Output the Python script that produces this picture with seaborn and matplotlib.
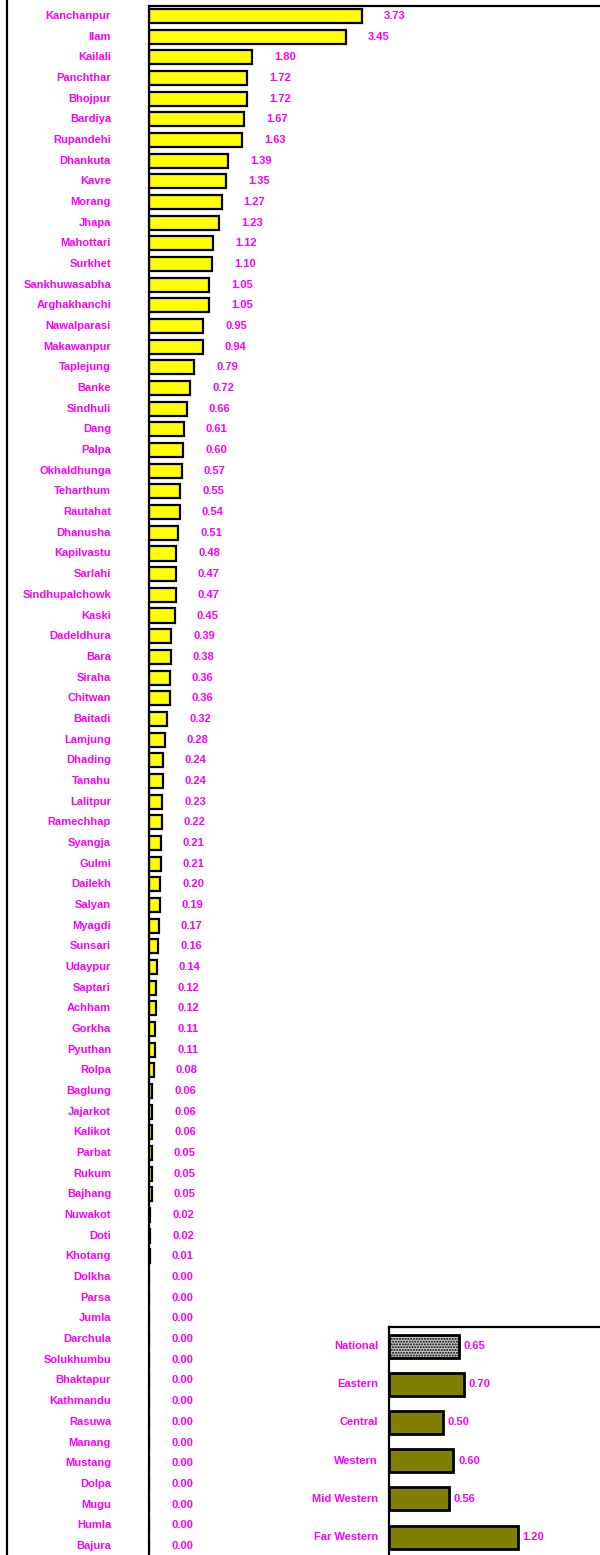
import matplotlib
matplotlib.use("Agg")
import matplotlib.pyplot as plt
from matplotlib.lines import Line2D
import seaborn as sns
import pandas as pd

# District values, top to bottom
districts = [
    "Kanchanpur", "Ilam", "Kailali", "Panchthar", "Bhojpur", "Bardiya", "Rupandehi",
    "Dhankuta", "Kavre", "Morang", "Jhapa", "Mahottari", "Surkhet", "Sankhuwasabha",
    "Arghakhanchi", "Nawalparasi", "Makawanpur", "Taplejung", "Banke", "Sindhuli",
    "Dang", "Palpa", "Okhaldhunga", "Teharthum", "Rautahat", "Dhanusha", "Kapilvastu",
    "Sarlahi", "Sindhupalchowk", "Kaski", "Dadeldhura", "Bara", "Siraha", "Chitwan",
    "Baitadi", "Lamjung", "Dhading", "Tanahu", "Lalitpur", "Ramechhap", "Syangja",
    "Gulmi", "Dailekh", "Salyan", "Myagdi", "Sunsari", "Udaypur", "Saptari", "Achham",
    "Gorkha", "Pyuthan", "Rolpa", "Baglung", "Jajarkot", "Kalikot", "Parbat", "Rukum",
    "Bajhang", "Nuwakot", "Doti", "Khotang", "Dolkha", "Parsa", "Jumla", "Darchula",
    "Solukhumbu", "Bhaktapur", "Kathmandu", "Rasuwa", "Manang", "Mustang", "Dolpa",
    "Mugu", "Humla", "Bajura",
]
district_values = [
    3.73, 3.45, 1.80, 1.72, 1.72, 1.67, 1.63,
    1.39, 1.35, 1.27, 1.23, 1.12, 1.10, 1.05,
    1.05, 0.95, 0.94, 0.79, 0.72, 0.66,
    0.61, 0.60, 0.57, 0.55, 0.54, 0.51, 0.48,
    0.47, 0.47, 0.45, 0.39, 0.38, 0.36, 0.36,
    0.32, 0.28, 0.24, 0.24, 0.23, 0.22, 0.21,
    0.21, 0.20, 0.19, 0.17, 0.16, 0.14, 0.12, 0.12,
    0.11, 0.11, 0.08, 0.06, 0.06, 0.06, 0.05, 0.05,
    0.05, 0.02, 0.02, 0.01, 0.00, 0.00, 0.00, 0.00,
    0.00, 0.00, 0.00, 0.00, 0.00, 0.00, 0.00,
    0.00, 0.00, 0.00,
]

# Regional values
regions = ["National", "Eastern", "Central", "Western", "Mid Western", "Far Western"]
region_values = [0.65, 0.70, 0.50, 0.60, 0.56, 1.20]

sns.set_style("white")
plt.rcParams["font.family"] = ["Liberation Sans", "DejaVu Sans"]

MAGENTA = "#FF00FF"
W, H, DPI = 600, 1555, 100
fig = plt.figure(figsize=(W / DPI, H / DPI), dpi=DPI)

# ---- main district chart ----
ax = fig.add_axes([149 / W, 0, 1 - 149 / W, 1 - 6 / H])
df = pd.DataFrame({"district": districts, "value": district_values})
sns.barplot(data=df, x="value", y="district", orient="h", color="#FFFF00",
            saturation=1, edgecolor="black", linewidth=1.6, width=0.68, ax=ax)
ax.set_xlim(0, 7.9)
ax.set_ylim(74.44, -0.48)
ax.set_xlabel("")
ax.set_ylabel("")
ax.set_xticks([])
ax.set_yticks([])
for side in ["right", "bottom"]:
    ax.spines[side].set_visible(False)
for side in ["left", "top"]:
    ax.spines[side].set_color("black")
    ax.spines[side].set_linewidth(1.6)

txt_kw = dict(color=MAGENTA, fontsize=8, fontweight="bold", va="center")
name_labels = []
for i, (name, v) in enumerate(zip(districts, district_values)):
    t = ax.annotate(name, xy=(0, i), xycoords=("axes fraction", "data"),
                    xytext=(-38, 0), textcoords="offset pixels", ha="right", **txt_kw)
    name_labels.append(t)
    ax.annotate(f"{v:.2f}", xy=(v, i), xycoords="data",
                xytext=(22, 0), textcoords="offset pixels", ha="left", **txt_kw)

# ---- regional inset ----
ax2 = fig.add_axes([389 / W, 0, 1 - 389 / W, 228 / H])
ax2.set_facecolor("white")
rdf = pd.DataFrame({"region": regions, "value": region_values})
palette = ["#C8C8C8"] + ["#808000"] * (len(regions) - 1)
sns.barplot(data=rdf, x="value", y="region", hue="region", palette=palette,
            orient="h", saturation=1, edgecolor="black", linewidth=2.0,
            width=0.6, legend=False, ax=ax2)
ax2.patches[0].set_hatch("......")
ax2.set_xlim(0, 1.97)
ax2.set_ylim(5.47, -0.5)
ax2.set_xlabel("")
ax2.set_ylabel("")
ax2.set_xticks([])
ax2.set_yticks([])
for side in ["right", "bottom"]:
    ax2.spines[side].set_visible(False)
for side in ["left", "top"]:
    ax2.spines[side].set_color("black")
    ax2.spines[side].set_linewidth(1.6)

for i, (name, v) in enumerate(zip(regions, region_values)):
    ax2.annotate(name, xy=(0, i), xycoords=("axes fraction", "data"),
                 xytext=(-11, 0), textcoords="offset pixels", ha="right", **txt_kw)
    ax2.annotate(f"{v:.2f}", xy=(v, i), xycoords="data",
                 xytext=(5, 0), textcoords="offset pixels", ha="left", **txt_kw)

# frame line at the left edge of the figure
fig.add_artist(Line2D([6.5 / W, 6.5 / W], [0, 1], transform=fig.transFigure,
                      color="black", linewidth=1.6))

# keep long district names inside the left frame
fig.canvas.draw()
renderer = fig.canvas.get_renderer()
for t in name_labels:
    bb = t.get_window_extent(renderer)
    if bb.x0 < 9:
        t.set_position((-38 + (9 - bb.x0), 0))

fig.savefig("out.png", dpi=DPI)
